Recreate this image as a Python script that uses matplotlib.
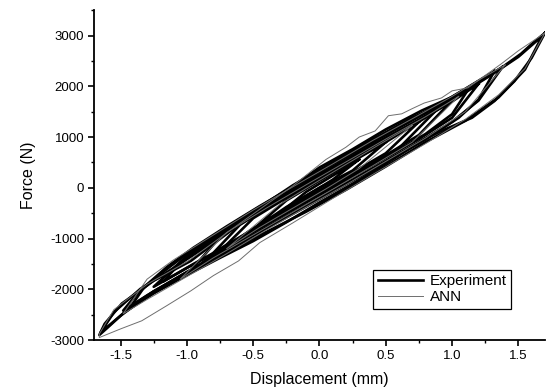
import matplotlib
matplotlib.use("Agg")
import matplotlib.pyplot as plt
from matplotlib.ticker import MultipleLocator

plt.rcParams['font.family'] = ['Liberation Sans', 'DejaVu Sans']

# ---------------- Experiment loops (closed paths: upper branch then lower branch) ----------------
exp1_x = [1.70, 1.60, 1.52, 1.37, 1.22, 1.00, 0.77, 0.50, 0.25, 0.00, -0.25, -0.59, -0.97, -1.25, -1.49, -1.62, -1.66,
          -1.60, -1.47, -1.25, -1.00, -0.75, -0.50, -0.25, 0.00, 0.25, 0.50, 0.77, 0.92, 1.15, 1.32, 1.47, 1.60, 1.70]
exp1_f = [3050, 2830, 2640, 2360, 2130, 1790, 1520, 1150, 760, 400, -60, -690, -1440, -1830, -2280, -2680, -2900,
          -2760, -2450, -2080, -1720, -1380, -1050, -680, -290, 80, 470, 930, 1120, 1380, 1710, 2100, 2560, 3050]

exp1b_x = [1.68, 1.50, 1.30, 1.00, 0.70, 0.40, 0.10, -0.20, -0.50, -0.80, -1.10, -1.35, -1.55, -1.65,
           -1.50, -1.25, -1.00, -0.70, -0.40, -0.10, 0.20, 0.50, 0.80, 1.10, 1.35, 1.55, 1.68]
exp1b_f = [2990, 2580, 2230, 1740, 1380, 950, 500, 50, -470, -1060, -1580, -1990, -2450, -2850,
           -2520, -2040, -1660, -1270, -870, -470, -40, 420, 900, 1320, 1780, 2330, 2990]

exp2_x = [1.38, 1.20, 1.00, 0.75, 0.50, 0.25, 0.00, -0.25, -0.50, -0.75, -1.00, -1.20, -1.38, -1.48,
          -1.30, -1.00, -0.75, -0.50, -0.25, 0.00, 0.25, 0.50, 0.75, 1.00, 1.20, 1.38]
exp2_f = [2380, 2080, 1760, 1400, 1040, 680, 320, -60, -450, -860, -1300, -1700, -2100, -2420,
          -2120, -1660, -1280, -920, -560, -200, 160, 530, 900, 1300, 1720, 2380]

exp2b_x = [1.32, 1.10, 0.85, 0.60, 0.30, 0.05, -0.20, -0.45, -0.70, -0.95, -1.15, -1.32, -1.42,
           -1.25, -1.00, -0.70, -0.40, -0.10, 0.20, 0.50, 0.80, 1.05, 1.20, 1.32]
exp2b_f = [2300, 1950, 1560, 1200, 780, 400, 20, -360, -760, -1180, -1560, -1950, -2330,
           -2040, -1690, -1240, -800, -370, 70, 500, 950, 1380, 1740, 2300]

exp3_x = [1.20, 1.00, 0.75, 0.50, 0.25, 0.00, -0.25, -0.50, -0.75, -1.00, -1.25,
          -1.00, -0.75, -0.50, -0.25, 0.00, 0.25, 0.50, 0.75, 1.00, 1.20]
exp3_f = [2050, 1700, 1330, 980, 630, 270, -110, -500, -900, -1340, -1950,
          -1580, -1230, -870, -500, -140, 220, 590, 960, 1380, 2050]

exp3b_x = [1.12, 0.90, 0.65, 0.40, 0.15, -0.10, -0.35, -0.60, -0.85, -1.05, -1.18,
           -0.95, -0.70, -0.45, -0.20, 0.05, 0.30, 0.55, 0.80, 1.00, 1.12]
exp3b_f = [1930, 1560, 1200, 850, 480, 110, -280, -680, -1100, -1480, -1850,
           -1500, -1140, -790, -430, -60, 300, 670, 1060, 1450, 1930]

exp4_x = [1.00, 0.75, 0.50, 0.25, 0.00, -0.25, -0.50, -0.75, -1.00,
          -0.75, -0.50, -0.25, 0.00, 0.25, 0.50, 0.75, 1.00]
exp4_f = [1720, 1300, 940, 580, 220, -160, -550, -970, -1720,
          -1200, -820, -450, -90, 270, 640, 1040, 1720]

exp4b_x = [0.90, 0.65, 0.40, 0.15, -0.10, -0.35, -0.60, -0.90,
           -0.65, -0.40, -0.15, 0.10, 0.35, 0.60, 0.90]
exp4b_f = [1580, 1170, 800, 430, 60, -320, -730, -1560,
           -1070, -700, -340, 30, 390, 780, 1580]

exp5_x = [0.75, 0.50, 0.25, 0.00, -0.25, -0.50, -0.75,
          -0.50, -0.25, 0.00, 0.25, 0.50, 0.75]
exp5_f = [1300, 900, 540, 180, -200, -600, -1250,
          -800, -420, -50, 300, 680, 1300]

exp6_x = [0.50, 0.25, 0.00, -0.25, -0.50, -0.25, 0.00, 0.25, 0.50]
exp6_f = [900, 520, 140, -250, -820, -380, 0, 340, 900]

exp7_x = [0.30, 0.10, -0.10, -0.30, -0.10, 0.10, 0.30]
exp7_f = [560, 240, -80, -500, -160, 160, 560]

# ---------------- ANN loops ----------------
ann1_x = [1.70, 1.50, 1.37, 1.12, 1.00, 0.92, 0.79, 0.70, 0.62, 0.52, 0.42, 0.30, 0.20, 0.05, -0.20, -0.60, -1.00, -1.30, -1.55, -1.66,
          -1.66, -1.50, -1.34, -1.15, -0.97, -0.80, -0.61, -0.45, -0.20, 0.10, 0.40, 0.80, 1.10, 1.35, 1.55, 1.70]
ann1_f = [3050, 2700, 2440, 1970, 1910, 1770, 1670, 1560, 1457, 1420, 1120, 1000, 800, 560, 40, -700, -1460, -1900, -2400, -2880,
          -2950, -2780, -2620, -2320, -2030, -1730, -1440, -1080, -690, -210, 260, 870, 1350, 1830, 2350, 3050]

ann2_x = [1.40, 1.20, 1.00, 0.70, 0.40, 0.10, -0.20, -0.50, -0.80, -1.10, -1.30, -1.48,
          -1.30, -1.00, -0.70, -0.40, -0.10, 0.20, 0.50, 0.80, 1.10, 1.40]
ann2_f = [2420, 2120, 1800, 1360, 930, 470, 20, -440, -930, -1420, -1800, -2480,
          -2200, -1750, -1300, -830, -380, 60, 520, 980, 1500, 2420]

ann3_x = [1.05, 0.80, 0.50, 0.20, -0.10, -0.40, -0.70, -1.05,
          -0.80, -0.50, -0.20, 0.10, 0.40, 0.70, 1.05]
ann3_f = [1800, 1400, 960, 510, 60, -400, -880, -1800,
          -1380, -930, -480, -30, 430, 900, 1800]

ann4_x = [0.70, 0.45, 0.20, -0.05, -0.30, -0.70,
          -0.45, -0.20, 0.05, 0.30, 0.70]
ann4_f = [1230, 850, 460, 70, -330, -1200,
          -780, -400, -20, 380, 1230]

# ---------------- Axis ticks ----------------
x_ticks = [-1.5, -1.0, -0.5, 0.0, 0.5, 1.0, 1.5]
x_ticklabels = ["-1.5", "-1.0", "-0.5", "0.0", "0.5", "1.0", "1.5"]
y_ticks = [-3000, -2000, -1000, 0, 1000, 2000, 3000]
y_ticklabels = ["-3000", "-2000", "-1000", "0", "1000", "2000", "3000"]

fig = plt.figure(figsize=(5.58, 3.90), dpi=100)
ax = fig.add_axes([0.1685, 0.128, 0.808, 0.846])

exp_loops = [(exp1_x, exp1_f), (exp1b_x, exp1b_f), (exp2_x, exp2_f), (exp2b_x, exp2b_f),
             (exp3_x, exp3_f), (exp3b_x, exp3b_f), (exp4_x, exp4_f), (exp4b_x, exp4b_f),
             (exp5_x, exp5_f), (exp6_x, exp6_f), (exp7_x, exp7_f)]
ann_loops = [(ann1_x, ann1_f), (ann2_x, ann2_f), (ann3_x, ann3_f), (ann4_x, ann4_f)]

for i, (x, f) in enumerate(exp_loops):
    ax.plot(x, f, color='black', lw=1.9, solid_joinstyle='round',
            label='Experiment' if i == 0 else None, zorder=3)
for i, (x, f) in enumerate(ann_loops):
    ax.plot(x, f, color='#6e6e6e', lw=0.7,
            label='ANN' if i == 0 else None, zorder=4)

ax.set_xlim(-1.7, 1.7)
ax.set_ylim(-3000, 3500)
ax.set_xticks(x_ticks)
ax.set_xticklabels(x_ticklabels)
ax.set_yticks(y_ticks)
ax.set_yticklabels(y_ticklabels)
ax.xaxis.set_minor_locator(MultipleLocator(0.25))
ax.yaxis.set_minor_locator(MultipleLocator(500))

for s in ['top', 'right']:
    ax.spines[s].set_visible(False)
for s in ['left', 'bottom']:
    ax.spines[s].set_linewidth(1.3)

ax.tick_params(which='major', direction='out', length=4, width=1.2, labelsize=9.5, pad=3)
ax.tick_params(which='minor', direction='out', length=2.5, width=1.0)

ax.set_xlabel('Displacement (mm)', fontsize=11.5, labelpad=7)
ax.set_ylabel('Force (N)', fontsize=11.5, labelpad=10)

leg = ax.legend(loc='lower right', bbox_to_anchor=(0.925, 0.094), fontsize=11,
                frameon=True, fancybox=False, framealpha=1, edgecolor='black',
                handlelength=3.0, borderpad=0.3, labelspacing=0.15, handletextpad=0.4,
                borderaxespad=0)
leg.get_frame().set_linewidth(0.9)

fig.savefig('out.png', dpi=100)
